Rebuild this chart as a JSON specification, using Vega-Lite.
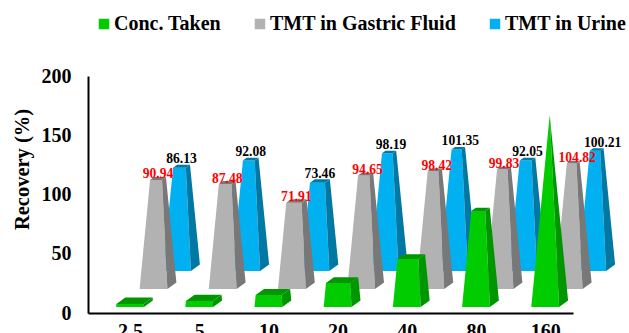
{
  "$schema": "https://vega.github.io/schema/vega-lite/v6.json",
  "width": 485,
  "height": 237,
  "autosize": "none",
  "padding": {"left": 88, "top": 76, "right": 56, "bottom": 20},
  "background": "white",
  "config": {"view": {"stroke": null}, "font": "Liberation Serif"},
  "data": {
    "values": [
      {"conc": 2.5, "series": "TMT in Urine", "value": 86.13},
      {"conc": 5, "series": "TMT in Urine", "value": 92.08},
      {"conc": 10, "series": "TMT in Urine", "value": 73.46},
      {"conc": 20, "series": "TMT in Urine", "value": 98.19},
      {"conc": 40, "series": "TMT in Urine", "value": 101.35},
      {"conc": 80, "series": "TMT in Urine", "value": 92.05},
      {"conc": 160, "series": "TMT in Urine", "value": 100.21},
      {"conc": 2.5, "series": "TMT in Gastric Fluid", "value": 90.94},
      {"conc": 5, "series": "TMT in Gastric Fluid", "value": 87.48},
      {"conc": 10, "series": "TMT in Gastric Fluid", "value": 71.91},
      {"conc": 20, "series": "TMT in Gastric Fluid", "value": 94.65},
      {"conc": 40, "series": "TMT in Gastric Fluid", "value": 98.42},
      {"conc": 80, "series": "TMT in Gastric Fluid", "value": 99.83},
      {"conc": 160, "series": "TMT in Gastric Fluid", "value": 104.82},
      {"conc": 2.5, "series": "Conc. Taken", "value": 2.5},
      {"conc": 5, "series": "Conc. Taken", "value": 5},
      {"conc": 10, "series": "Conc. Taken", "value": 10},
      {"conc": 20, "series": "Conc. Taken", "value": 20},
      {"conc": 40, "series": "Conc. Taken", "value": 40},
      {"conc": 80, "series": "Conc. Taken", "value": 80},
      {"conc": 160, "series": "Conc. Taken", "value": 160}
    ]
  },
  "transform": [
    {"calculate": "datum.value / 160", "as": "t"},
    {"calculate": "log(datum.conc / 2.5) / LN2 * 69.2 + (datum.series === 'Conc. Taken' ? 0 : datum.series === 'TMT in Gastric Fluid' ? 23.5 : 47)", "as": "cx"},
    {"calculate": "datum.series === 'Conc. Taken' ? 307 : datum.series === 'TMT in Gastric Fluid' ? 289 : 271", "as": "floor"}
  ],
  "layer": [
    {
      "transform": [
        {"calculate": "[['front',0,-1,0,0],['front',1,1,0,0],['front',2,1,0,1],['front',3,-1,0,1],['side',0,1,0,0],['side',1,1,1,0],['side',2,1,1,1],['side',3,1,0,1],['top',0,-1,0,1],['top',1,1,0,1],['top',2,1,1,1],['top',3,-1,1,1]]", "as": "corners"},
        {"flatten": ["corners"], "as": ["corner"]},
        {"calculate": "datum.corner[0] === 'front' ? datum.series : datum.series + ' ' + datum.corner[0]", "as": "tone"},
        {"calculate": "datum.series + datum.conc + datum.corner[0]", "as": "facet"},
        {"calculate": "datum.corner[1]", "as": "step"},
        {"calculate": "1 - datum.corner[4] * datum.t", "as": "shrink"},
        {"calculate": "0.5 + (datum.corner[3] - 0.5) * datum.shrink", "as": "depth"},
        {"calculate": "datum.cx + datum.corner[2] * datum.shrink * 13.9 + 9 * datum.depth", "as": "px"},
        {"calculate": "(313 - datum.floor + 6.5 * datum.depth + datum.corner[4] * datum.t * 188.7) / 1.185", "as": "py"}
      ],
      "mark": {"type": "line", "filled": true, "strokeWidth": 0, "clip": false},
      "encoding": {
        "x": {
          "field": "px",
          "type": "quantitative",
          "scale": {"domain": [-42, 443], "nice": false, "zero": false},
          "axis": {
            "title": null,
            "grid": false,
            "ticks": false,
            "values": [0, 69.2, 138.4, 207.6, 276.8, 346, 415.2],
            "labelExpr": "'' + 2.5 * pow(2, round(datum.value / 69.2))",
            "domainColor": "black",
            "domainWidth": 2,
            "labelColor": "black",
            "labelFont": "Liberation Serif",
            "labelFontWeight": "bold",
            "labelFontSize": 20,
            "labelPadding": 8,
            "labelOverlap": false,
            "labelFlush": false
          }
        },
        "y": {
          "field": "py",
          "type": "quantitative",
          "scale": {"domain": [0, 200], "nice": false},
          "axis": {
            "title": "Recovery (%)",
            "grid": false,
            "ticks": false,
            "values": [0, 50, 100, 150, 200],
            "domainColor": "black",
            "domainWidth": 2,
            "labelColor": "black",
            "labelFont": "Liberation Serif",
            "labelFontWeight": "bold",
            "labelFontSize": 20,
            "labelPadding": 17,
            "titleColor": "black",
            "titleFont": "Liberation Serif",
            "titleFontWeight": "bold",
            "titleFontSize": 20.5,
            "titleAngle": -90,
            "titleAlign": "center",
            "titleBaseline": "alphabetic",
            "titleAnchor": null,
            "titleX": -60,
            "titleY": 93
          }
        },
        "order": {"field": "step", "type": "quantitative"},
        "detail": {"field": "facet"},
        "color": {
          "field": "tone",
          "type": "nominal",
          "scale": {
            "domain": [
              "Conc. Taken", "Conc. Taken side", "Conc. Taken top",
              "TMT in Gastric Fluid", "TMT in Gastric Fluid side", "TMT in Gastric Fluid top",
              "TMT in Urine", "TMT in Urine side", "TMT in Urine top"
            ],
            "range": [
              "#00CC00", "#009600", "#009600",
              "#B2B2B2", "#787878", "#787878",
              "#00B0F0", "#0078A4", "#0078A4"
            ]
          },
          "legend": {
            "values": ["Conc. Taken", "TMT in Gastric Fluid", "TMT in Urine"],
            "title": null,
            "orient": "none",
            "legendX": 6,
            "legendY": -62,
            "direction": "horizontal",
            "columns": 3,
            "columnPadding": 28,
            "symbolType": "square",
            "symbolSize": 110,
            "symbolStrokeWidth": 0,
            "labelOffset": 0,
            "labelColor": "black",
            "labelFont": "Liberation Serif",
            "labelFontWeight": "bold",
            "labelFontSize": 20,
            "labelLimit": 300
          }
        }
      }
    },
    {
      "transform": [
        {"filter": "datum.series !== 'Conc. Taken'"},
        {"calculate": "datum.cx + 4.5 + (datum.conc === 160 ? (datum.series === 'TMT in Urine' ? 6 : 4) : 0) + ((datum.conc === 20 || datum.conc === 40) ? 2 : 0)", "as": "labelX"},
        {"calculate": "(313 - datum.floor + 3.25 + datum.t * 188.7 + (datum.series === 'TMT in Urine' ? 3 : 0)) / 1.185", "as": "labelY"}
      ],
      "mark": {"type": "text", "font": "Liberation Serif", "fontWeight": "bold", "fontSize": 13.6, "baseline": "alphabetic", "align": "center"},
      "encoding": {
        "x": {"field": "labelX", "type": "quantitative"},
        "y": {"field": "labelY", "type": "quantitative"},
        "text": {"field": "value", "type": "quantitative", "format": ".2f"},
        "color": {
          "condition": {"test": "datum.series === 'TMT in Gastric Fluid'", "value": "#FF0000"},
          "value": "#000000"
        }
      }
    }
  ]
}
